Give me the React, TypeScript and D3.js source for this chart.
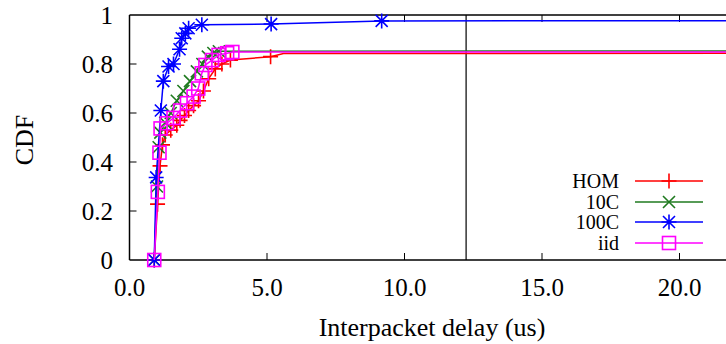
import React from "react";
import * as d3 from "d3";

const xTicks = [0, 5, 10, 15, 20];
const xTickLabels = ["0.0", "5.0", "10.0", "15.0", "20.0"];
const yTicks = [0, 0.2, 0.4, 0.6, 0.8, 1];
const yTickLabels = ["0", "0.2", "0.4", "0.6", "0.8", "1"];
const markerLineX = 12.24;

const homPts: [number, number][] = [
  [0.9, 0], [1.02, 0.228], [1.11, 0.384], [1.2, 0.47], [1.3, 0.51], [1.5, 0.53],
  [1.72, 0.55], [1.84, 0.57], [2.0, 0.59], [2.15, 0.61], [2.33, 0.63], [2.51, 0.65],
  [2.69, 0.69], [2.88, 0.74], [3.12, 0.78], [3.36, 0.8], [3.67, 0.816], [5.13, 0.83],
];
const homTail: [number, number][] = [[5.6, 0.843], [30, 0.844]];

const c10Pts: [number, number][] = [
  [0.9, 0], [1.0, 0.3], [1.06, 0.46], [1.12, 0.52], [1.3, 0.56], [1.5, 0.6],
  [1.72, 0.65], [1.96, 0.69], [2.2, 0.73], [2.45, 0.77], [2.65, 0.8], [2.85, 0.83],
  [3.05, 0.845], [3.25, 0.852],
];
const c10Tail: [number, number][] = [[30, 0.854]];

const c100Pts: [number, number][] = [
  [0.9, 0], [0.97, 0.337], [1.14, 0.61], [1.23, 0.73], [1.42, 0.79], [1.6, 0.8],
  [1.82, 0.86], [1.9, 0.905], [2.03, 0.925], [2.15, 0.946], [2.63, 0.96],
  [5.15, 0.963], [9.17, 0.976],
];
const c100Tail: [number, number][] = [[30, 0.977]];

const iidPts: [number, number][] = [
  [0.9, 0], [1.03, 0.278], [1.09, 0.438], [1.13, 0.537], [1.36, 0.558], [1.6, 0.58],
  [1.84, 0.61], [2.09, 0.64], [2.33, 0.667], [2.5, 0.7], [2.63, 0.762], [2.76, 0.796],
  [3.0, 0.816], [3.24, 0.837], [3.55, 0.844], [3.74, 0.849],
];
const iidTail: [number, number][] = [[30, 0.849]];

const seriesNames = ["HOM", "10C", "100C", "iid"];
const seriesColors = ["#ff0000", "#1f7a1f", "#0000ff", "#ff00ff"];
const seriesMarkers = ["plus", "cross", "star", "square"];
const seriesPts = [homPts, c10Pts, c100Pts, iidPts];
const seriesTails = [homTail, c10Tail, c100Tail, iidTail];

const W = 726;
const H = 344;
const x = d3.scaleLinear().domain([0, 25]).range([129.5, 129.5 + 25 * 27.5]);
const y = d3.scaleLinear().domain([0, 1]).range([260, 15]);
const FONT = "'Liberation Serif', 'Times New Roman', serif";

function Marker({ type, cx, cy, color }: { type: string; cx: number; cy: number; color: string }) {
  const s = 7.5;
  const d = 6;
  if (type === "plus")
    return <path d={`M${cx - s},${cy}H${cx + s}M${cx},${cy - s}V${cy + s}`} stroke={color} strokeWidth={1.6} fill="none" />;
  if (type === "cross")
    return <path d={`M${cx - d},${cy - d}L${cx + d},${cy + d}M${cx - d},${cy + d}L${cx + d},${cy - d}`} stroke={color} strokeWidth={1.6} fill="none" />;
  if (type === "star")
    return (
      <path
        d={`M${cx - s},${cy}H${cx + s}M${cx},${cy - s}V${cy + s}M${cx - d},${cy - d}L${cx + d},${cy + d}M${cx - d},${cy + d}L${cx + d},${cy - d}`}
        stroke={color}
        strokeWidth={1.6}
        fill="none"
      />
    );
  return <rect x={cx - 6.5} y={cy - 6.5} width={13} height={13} stroke={color} strokeWidth={1.6} fill="none" />;
}

export default function App() {
  const line = d3
    .line<[number, number]>()
    .x((d) => x(d[0]))
    .y((d) => y(d[1]));
  const legendY = [181, 202, 222, 243];
  return (
    <svg width={W} height={H} style={{ position: "absolute", left: 0, top: 0, background: "#fff" }} fontFamily={FONT}>
      <defs>
        <clipPath id="clip">
          <rect x={0} y={0} width={W} height={H} />
        </clipPath>
      </defs>
      <line x1={x(0)} x2={x(0)} y1={y(0)} y2={y(1)} stroke="#000" strokeWidth={1.5} />
      <line x1={x(0)} x2={W} y1={y(0)} y2={y(0)} stroke="#000" strokeWidth={1.5} />
      <line x1={x(0)} x2={W} y1={y(1)} y2={y(1)} stroke="#000" strokeWidth={1.5} />
      <line x1={x(markerLineX)} x2={x(markerLineX)} y1={y(0)} y2={y(1)} stroke="#000" strokeWidth={1.2} />
      {yTicks.map((t, i) => (
        <g key={"y" + i}>
          {t > 0 && t < 1 && <line x1={x(0)} x2={x(0) + 7} y1={y(t)} y2={y(t)} stroke="#000" strokeWidth={1} />}
          <text x={113} y={y(t) + 8.5} fontSize={25} textAnchor="end" fill="#000">
            {yTickLabels[i]}
          </text>
        </g>
      ))}
      {xTicks.map((t, i) => (
        <g key={"x" + i}>
          {t > 0 && <line x1={x(t)} x2={x(t)} y1={y(0)} y2={y(0) - 7} stroke="#000" strokeWidth={1} />}
          {t > 0 && <line x1={x(t)} x2={x(t)} y1={y(1)} y2={y(1) + 7} stroke="#000" strokeWidth={1} />}
          <text x={x(t)} y={296} fontSize={25} textAnchor="middle" fill="#000">
            {xTickLabels[i]}
          </text>
        </g>
      ))}
      <text x={432} y={336} fontSize={26} textAnchor="middle" fill="#000">
        Interpacket delay (us)
      </text>
      <text transform="translate(33,140) rotate(-90)" fontSize={26} textAnchor="middle" fill="#000">
        CDF
      </text>
      <g clipPath="url(#clip)">
        {seriesPts.map((pts, i) => (
          <g key={"s" + i}>
            <path d={line([...pts, ...seriesTails[i]]) || ""} stroke={seriesColors[i]} strokeWidth={1.5} fill="none" />
            {pts.map((p, j) => (
              <Marker key={j} type={seriesMarkers[i]} cx={x(p[0])} cy={y(p[1])} color={seriesColors[i]} />
            ))}
          </g>
        ))}
      </g>
      {seriesNames.map((n, i) => (
        <g key={"l" + i}>
          <text x={619} y={legendY[i] + 7} fontSize={20} textAnchor="end" fill="#000">
            {n}
          </text>
          <line x1={635} x2={703} y1={legendY[i]} y2={legendY[i]} stroke={seriesColors[i]} strokeWidth={1.5} />
          <Marker type={seriesMarkers[i]} cx={669} cy={legendY[i]} color={seriesColors[i]} />
        </g>
      ))}
    </svg>
  );
}
